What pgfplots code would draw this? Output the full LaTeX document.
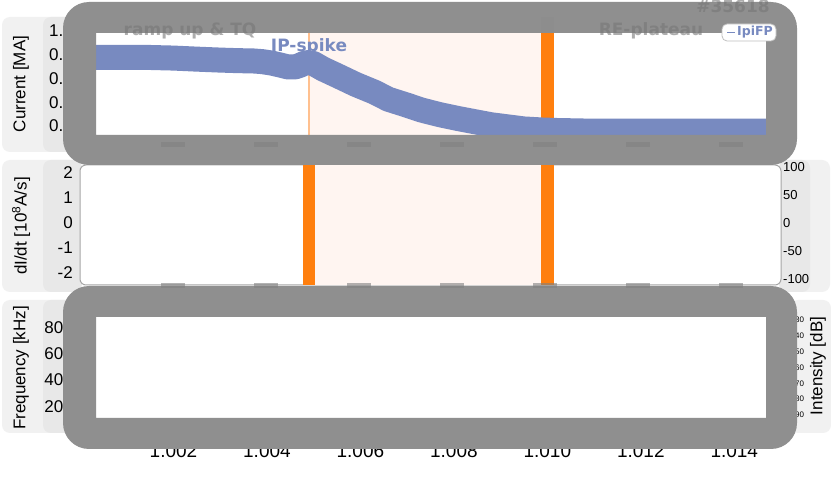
\documentclass[border=0pt]{standalone}
\usepackage{pgfplots}
\pgfplotsset{compat=1.18}
\usepackage{fontspec}
\setmainfont{Liberation Sans}
\newfontfamily\dv{DejaVu Sans}

\definecolor{ipblue}{HTML}{788AC0}
\definecolor{orng}{HTML}{FF7F0E}
\definecolor{orngl}{HTML}{FFC08F}
\definecolor{pinkbg}{HTML}{FFF5F1}
\definecolor{boxa}{HTML}{F1F1F1}
\definecolor{boxb}{HTML}{E8E8E8}
\definecolor{ovl}{HTML}{8F8F8F}
\definecolor{txtg}{HTML}{777777}

\newcommand\fs[1]{\fontsize{#1bp}{#1bp}\selectfont}
% picture coordinates in pixels, measured from the top
\newcommand\px[2]{({#1bp},{(481-#2)*1bp})}

\pgfplotsset{
  panel/.style={
    scale only axis, width=701bp, anchor=south west,
    xmin=1.0, xmax=1.015,
    axis line style={draw=none},
    major tick length=0pt,
    /pgf/number format/assume math mode=true,
    tick label style={font=\fs{17}},
    xtick=\empty,
  },
  leftticks/.style={yticklabel style={inner sep=0pt, xshift=-7bp}},
}

\begin{document}
\begin{tikzpicture}
\useasboundingbox (0,0) rectangle (831bp,481bp);
\fill[white] (0,0) rectangle (831bp,481bp);

% label boxes
\fill[boxa, rounded corners=8bp] \px{2}{17} rectangle \px{90}{152};
\fill[boxb, rounded corners=8bp] \px{43}{17} rectangle \px{90}{152};
\fill[boxa, rounded corners=8bp] \px{2}{160} rectangle \px{82}{292};
\fill[boxb, rounded corners=8bp] \px{43}{160} rectangle \px{82}{292};
\fill[boxa, rounded corners=8bp] \px{779}{160} rectangle \px{830}{292};
\fill[boxb, rounded corners=8bp] \px{779}{160} rectangle \px{810}{292};
\fill[boxa, rounded corners=8bp] \px{2}{300} rectangle \px{90}{433};
\fill[boxb, rounded corners=8bp] \px{43}{300} rectangle \px{90}{433};
\fill[boxa, rounded corners=8bp] \px{790}{300} rectangle \px{831}{433};

\node[rotate=90, font=\fs{17}] at \px{21}{84} {Current [MA]};
\node[rotate=90, font=\fs{17}] at \px{21}{226} {dI/dt [10\textsuperscript{8}A/s]};
\node[rotate=90, font=\fs{17}] at \px{21}{368} {Frequency [kHz]};
\node[rotate=90, font=\fs{17}] at \px{818}{366} {Intensity [dB]};

% panel 2 frame
\filldraw[fill=white, draw=gray!70, line width=1bp, rounded corners=6bp] \px{80}{165} rectangle \px{781}{285};
\fill[white] \px{80}{17} rectangle \px{781}{147};
\fill[white] \px{80}{303} rectangle \px{781}{433};

% panel 1: plasma current
\begin{axis}[panel, leftticks, at={(80bp,334bp)}, height=130bp,
  ymin=0.023, ymax=1.118, ytick={0.2,0.4,0.6,0.8,1.0},
  yticklabel style={/pgf/number format/.cd, fixed, fixed zerofill, precision=1}]
\addplot[fill=pinkbg, draw=none] coordinates {(1.0049,-1) (1.010,-1) (1.010,2) (1.0049,2)};
\addplot[orngl, line width=1.5bp] coordinates {(1.0049,-1) (1.0049,2)};
\addplot[orng, line width=13bp] coordinates {(1.010,-1) (1.010,2)};
\addplot[ipblue, line width=25bp, line join=round] coordinates {
  (1.0000,0.777) (1.0005,0.778) (1.0010,0.778) (1.0015,0.777) (1.0020,0.772)
  (1.0025,0.763) (1.0030,0.755) (1.0034,0.750) (1.0037,0.748) (1.0039,0.742)
  (1.0041,0.730) (1.0043,0.712) (1.00445,0.697) (1.0046,0.697) (1.0047,0.710)
  (1.0048,0.728) (1.0049,0.735) (1.0050,0.725) (1.0052,0.680) (1.0055,0.625)
  (1.0059,0.550) (1.0063,0.485) (1.0066,0.425) (1.0070,0.375) (1.0073,0.335)
  (1.0077,0.295) (1.0081,0.262) (1.0085,0.232) (1.0088,0.210) (1.0092,0.190)
  (1.0095,0.175) (1.0099,0.166) (1.0102,0.162) (1.0110,0.156) (1.0130,0.156)
  (1.0150,0.156)};
\end{axis}

% panel 2: dI/dt
\begin{axis}[panel, leftticks, at={(80bp,196bp)}, height=120bp,
  ymin=-2.48, ymax=2.32, ytick={-2,-1,0,1,2}]
\addplot[fill=pinkbg, draw=none] coordinates {(1.0049,-5) (1.010,-5) (1.010,5) (1.0049,5)};
\addplot[orng, line width=12bp] coordinates {(1.0049,-5) (1.0049,5)};
\addplot[orng, line width=13bp] coordinates {(1.010,-5) (1.010,5)};
\end{axis}
\begin{axis}[panel, at={(80bp,196bp)}, height=120bp,
  ymin=-110.7, ymax=103.6, ytick={-100,-50,0,50,100},
  yticklabel pos=right,
  yticklabel style={font=\fs{13}, inner sep=0pt, xshift=2bp, anchor=west}]
\addplot[draw=none] coordinates {(1.0,0)};
\end{axis}

% panel 3: spectrogram
\begin{axis}[panel, leftticks, at={(80bp,48.4bp)}, height=129.6bp,
  ymin=0, ymax=985, ytick={200,400,600,800},
  xtick={1.002,1.004,...,1.014},
  xticklabel style={font=\fs{19}, inner sep=0pt, anchor=center, yshift=-18bp,
    /pgf/number format/.cd, fixed, fixed zerofill, precision=3}]
\addplot[draw=none] coordinates {(1.0,0)};
\end{axis}
\begin{axis}[panel, at={(80bp,48.4bp)}, height=129.6bp,
  y dir=reverse, ymin=19.26, ymax=101.1, ytick={30,40,...,90},
  yticklabel pos=right,
  yticklabel style={font=\fs{8}, inner sep=0pt, xshift=14bp, anchor=west}]
\addplot[draw=none] coordinates {(1.0,50)};
\end{axis}

% grey covering frames
\fill[ovl, even odd rule] \px{63}{2} [rounded corners=26bp] rectangle \px{797}{165}
  [sharp corners] \px{96}{33} rectangle \px{766}{135};
\fill[ovl, even odd rule] \px{63}{286} [rounded corners=26bp] rectangle \px{797}{449}
  [sharp corners] \px{96}{317} rectangle \px{766}{418};
\fill[black!45, opacity=0.35] \px{541}{17} rectangle \px{554}{33};
\foreach \t in {173.5,267,360,453.5,547,640,734} {
  \fill[black!50, opacity=0.6] \px{\t-12}{142} rectangle \px{\t+12}{147};
  \fill[black!50, opacity=0.6] \px{\t-12}{283} rectangle \px{\t+12}{288};
}

% annotations
\node[font=\dv\bfseries\fs{17}, text=txtg, text opacity=0.6] at \px{190}{31} {ramp up \& TQ};
\node[font=\dv\bfseries\fs{17}, text=ipblue] at \px{309}{47} {IP-spike};
\node[font=\dv\bfseries\fs{17}, text=txtg, text opacity=0.6] at \px{651}{31} {RE-plateau};
\node[font=\dv\bfseries\fs{17}, text=txtg, text opacity=0.6] at \px{733}{6} {\#35618};
\filldraw[fill=white, draw=gray!50, line width=0.8bp, rounded corners=5bp] \px{722}{24} rectangle \px{776}{41};
\draw[ipblue, line width=1.5bp] \px{727}{32.5} -- \px{735}{32.5};
\node[font=\dv\bfseries\fs{12.5}, text=ipblue, inner sep=0pt] at \px{755}{32.5} {IpiFP};
\end{tikzpicture}
\end{document}
